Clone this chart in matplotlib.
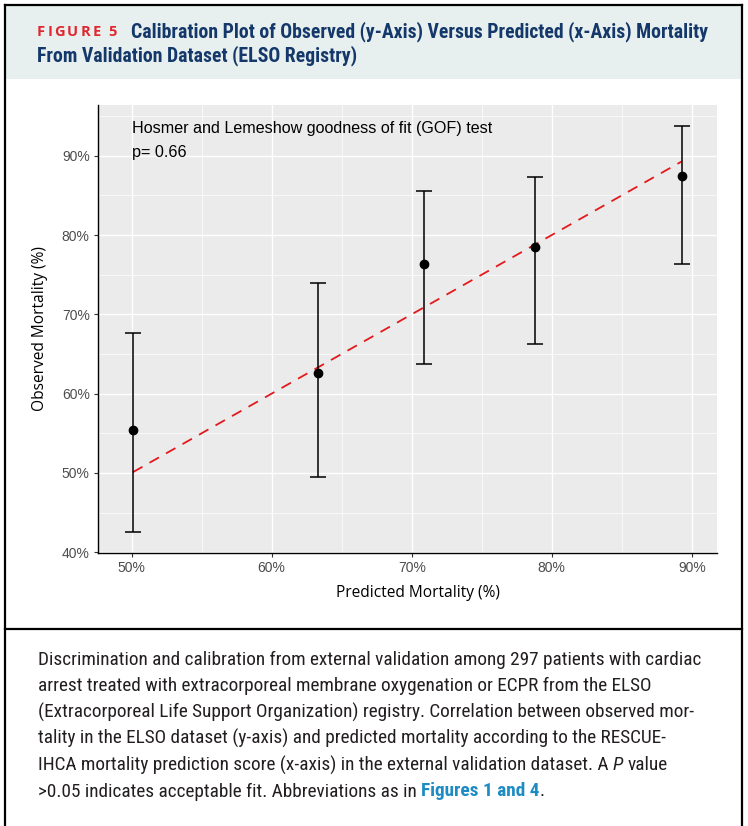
import matplotlib
matplotlib.use('Agg')
import matplotlib.pyplot as plt
from matplotlib import font_manager
from matplotlib.patches import Rectangle
from matplotlib.lines import Line2D
from matplotlib.ticker import FixedLocator, FuncFormatter

# ── Calibration groups (percent) ─────────────────────────────────────────────
predicted = [50.1, 63.3, 70.9, 78.8, 89.3]
observed = [55.4, 62.6, 76.3, 78.5, 87.5]
ci_low = [42.5, 49.5, 63.7, 66.2, 76.4]
ci_high = [67.7, 74.0, 85.6, 87.3, 93.8]
x_ticks = [50, 60, 70, 80, 90]
y_ticks = [40, 50, 60, 70, 80, 90]
x_minor = [55, 65, 75, 85]
y_minor = [45, 55, 65, 75, 85, 95]
gof_p = 0.66

fig_label = 'FIGURE 5'
title_lines = ['Calibration Plot of Observed (y-Axis) Versus Predicted (x-Axis) Mortality',
               'From Validation Dataset (ELSO Registry)']
caption_lines = [
    [('Discrimination and calibration from external validation among 297 patients with cardiac', {})],
    [('arrest treated with extracorporeal membrane oxygenation or ECPR from the ELSO', {})],
    [('(Extracorporeal Life Support Organization) registry. Correlation between observed mor-', {})],
    [('tality in the ELSO dataset (y-axis) and predicted mortality according to the RESCUE-', {})],
    [('IHCA mortality prediction score (x-axis) in the external validation dataset. A', {}),
     ('P', {'style': 'italic'}), ('value', {})],
    [('>0.05 indicates acceptable fit. Abbreviations as in', {}),
     ('Figures 1 and 4', {'weight': 'bold', 'color': '#1D8BC4'}), ('.', {'nospace': True})],
]

W, H = 748, 826
fig = plt.figure(figsize=(W / 100, H / 100), dpi=100)
fig.patch.set_facecolor('white')
renderer = fig.canvas.get_renderer()

installed = {f.name for f in font_manager.fontManager.ttflist}
def pick(*names):
    for n in names:
        if n in installed:
            return n
    return 'DejaVu Sans'

ARIAL = pick('Liberation Sans', 'Arial')
HUMANIST = pick('Open Sans', 'Lato', 'Noto Sans')
COND = pick('Roboto Condensed', 'Liberation Sans Narrow', 'DejaVu Sans Condensed', 'Roboto')

fx = lambda px: px / W
fy = lambda py: 1 - py / H

def text_width(s, **kw):
    t = fig.text(0, 0, s, **kw)
    w = t.get_window_extent(renderer=renderer).width
    t.remove()
    return w

def fit_size(s, width_px, **kw):
    return 10 * width_px / text_width(s, fontsize=10, **kw)

# ── Frame and header band ────────────────────────────────────────────────────
fig.add_artist(Rectangle((fx(5), fy(79)), fx(742 - 5), (79 - 6) / H,
                         facecolor='#E7F0EF', edgecolor='none'))
for (x0, y0, x1, y1) in [(5, 5, 742, 5), (5, 5, 5, 826), (742, 5, 742, 826),
                         (5, 629, 742, 629)]:
    fig.add_artist(Line2D([fx(x0), fx(x1)], [fy(y0), fy(y1)], color='black',
                          lw=1.6, solid_capstyle='projecting'))

# "FIGURE 5" with letter spacing
lab_kw = dict(family=HUMANIST, weight='bold', color='#E0262E')
lab_size = 10.5
space_w = text_width('a a', fontsize=lab_size, **lab_kw) - text_width('aa', fontsize=lab_size, **lab_kw)
widths = [text_width(c, fontsize=lab_size, **lab_kw) if c != ' ' else space_w
          for c in fig_label]
track = (80 - sum(widths)) / (len(fig_label) - 1)
x = 37
for c, w in zip(fig_label, widths):
    if c != ' ':
        fig.text(fx(x), fy(32), c, fontsize=lab_size, va='center', ha='left', **lab_kw)
    x += w + track

head_kw = dict(family=COND, weight='bold', color='#15386A')
head_size = fit_size(title_lines[0], 709 - 131, **head_kw)
fig.text(fx(131), fy(32), title_lines[0], fontsize=head_size, va='center', **head_kw)
fig.text(fx(37), fy(56), title_lines[1], fontsize=head_size, va='center', **head_kw)

# ── Calibration panel ────────────────────────────────────────────────────────
ax = fig.add_axes([fx(98), fy(553), (717 - 98) / W, (553 - 105) / H])
ax.set_facecolor('#EBEBEB')
ax.set_xlim(47.6, 91.8)
ax.set_ylim(39.9, 96.4)
ax.xaxis.set_major_locator(FixedLocator(x_ticks))
ax.yaxis.set_major_locator(FixedLocator(y_ticks))
ax.xaxis.set_minor_locator(FixedLocator(x_minor))
ax.yaxis.set_minor_locator(FixedLocator(y_minor))
pct = FuncFormatter(lambda v, _: f'{v:.0f}%')
ax.xaxis.set_major_formatter(pct)
ax.yaxis.set_major_formatter(pct)
ax.grid(which='major', color='white', lw=1.0)
ax.grid(which='minor', color='white', lw=0.5)
ax.set_axisbelow(True)
for s in ['top', 'right']:
    ax.spines[s].set_visible(False)
for s in ['left', 'bottom']:
    ax.spines[s].set_color('black')
    ax.spines[s].set_linewidth(1.0)
ax.tick_params(which='major', length=3, width=0.8, color='#333333',
               labelcolor='#4D4D4D', labelsize=10, pad=3)
ax.tick_params(which='minor', length=0)
for lbl in ax.get_xticklabels() + ax.get_yticklabels():
    lbl.set_family(ARIAL)

ax.plot([predicted[0], predicted[-1]], [predicted[0], predicted[-1]],
        color='#E3191C', lw=1.3, dashes=(6, 4.5), zorder=2)
yerr = [[o - l for o, l in zip(observed, ci_low)],
        [h - o for o, h in zip(observed, ci_high)]]
ax.errorbar(predicted, observed, yerr=yerr, fmt='o', color='black',
            ms=6, elinewidth=1.1, capsize=5.5, capthick=1.1, zorder=3)

gof_size = fit_size('Hosmer and Lemeshow goodness of fit (GOF) test', 361, family=ARIAL)
ax.text(50, 93.4, 'Hosmer and Lemeshow goodness of fit (GOF) test',
        family=ARIAL, fontsize=gof_size, va='center', ha='left', color='black')
ax.text(50, 90.4, f'p= {gof_p:.2f}', family=ARIAL, fontsize=gof_size,
        va='center', ha='left', color='black')

axis_size = fit_size('Predicted Mortality (%)', 164, family=HUMANIST)
fig.text(fx(418), fy(593), 'Predicted Mortality (%)', family=HUMANIST,
         fontsize=axis_size, ha='center', va='center', color='black')
fig.text(fx(40), fy(329), 'Observed Mortality (%)', family=HUMANIST,
         fontsize=axis_size, ha='center', va='center', rotation=90, color='black')

# ── Caption ──────────────────────────────────────────────────────────────────
cap_kw = dict(family=COND, color='#231F20')
cap_size = fit_size(caption_lines[0][0][0], 700 - 38, **cap_kw)
cap_space = text_width('a a', fontsize=cap_size, **cap_kw) - text_width('aa', fontsize=cap_size, **cap_kw)
for i, runs in enumerate(caption_lines):
    y = 660 + 26.3 * i
    x = 38
    for j, (s, extra) in enumerate(runs):
        extra = dict(extra)
        nospace = extra.pop('nospace', False)
        kw = dict(cap_kw)
        kw.update(extra)
        if j > 0 and not nospace:
            x += cap_space
        fig.text(fx(x), fy(y), s, fontsize=cap_size, va='center', ha='left', **kw)
        x += text_width(s, fontsize=cap_size, **kw)

fig.savefig('out.png', dpi=100)
